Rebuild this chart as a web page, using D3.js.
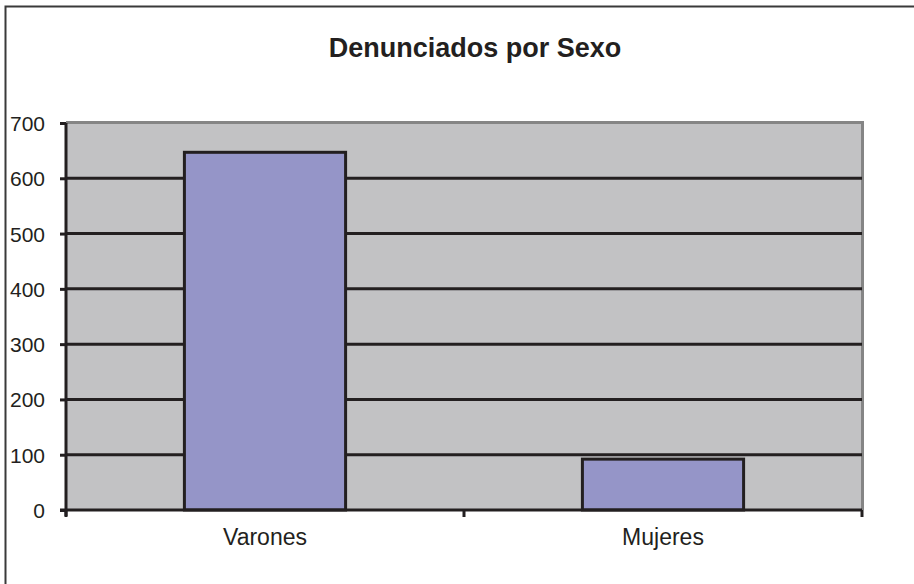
<!DOCTYPE html>
<html>
<head>
<meta charset="utf-8">
<script src="https://cdn.jsdelivr.net/npm/d3@7"></script>
<style>
  body { margin: 0; background: #fff; }
  svg { display: block; font-family: "Liberation Sans", Arial, sans-serif; }
</style>
</head>
<body>
<div id="chart"></div>
<script>
var categories = ['Varones', 'Mujeres'];
var values = [647, 92];
var yTicks = [0, 100, 200, 300, 400, 500, 600, 700];

var W = 914, H = 584;
var plot = { left: 66, top: 123, right: 862, bottom: 510 };

var svg = d3.select('#chart').append('svg')
    .attr('width', W)
    .attr('height', H);

// outer chart border
svg.append('rect')
    .attr('x', 5.5).attr('y', 6.5)
    .attr('width', W + 20).attr('height', H + 20)
    .attr('fill', '#fff')
    .attr('stroke', '#3a3a3a')
    .attr('stroke-width', 2);

svg.append('text')
    .attr('x', 475).attr('y', 56.5)
    .attr('text-anchor', 'middle')
    .style('font-size', '27px')
    .style('font-weight', 'bold')
    .attr('fill', '#231f20')
    .text('Denunciados por Sexo');

var y = d3.scaleLinear().domain([0, 700]).range([plot.bottom, plot.top]);
var xTick = d3.scaleBand().domain(categories).range([plot.left, plot.right]).padding(0);
var x = d3.scaleBand().domain(categories).range([plot.left, plot.right])
    .paddingInner(0.595).paddingOuter(0.2975);

// plot area
svg.append('rect')
    .attr('x', plot.left).attr('y', plot.top)
    .attr('width', plot.right - plot.left).attr('height', plot.bottom - plot.top)
    .attr('fill', '#c2c2c4');
// grey frame top + right
svg.append('path')
    .attr('d', 'M' + plot.left + ',' + (plot.top - 0.5) + 'H' + (plot.right + 0.5) + 'V' + plot.bottom)
    .attr('fill', 'none')
    .attr('stroke', '#858585')
    .attr('stroke-width', 3);

// gridlines
svg.append('g').selectAll('line')
    .data(yTicks.filter(function(d) { return d > 0 && d < 700; }))
  .enter().append('line')
    .attr('x1', plot.left).attr('x2', plot.right)
    .attr('y1', function(d) { return y(d); })
    .attr('y2', function(d) { return y(d); })
    .attr('stroke', '#231f20')
    .attr('stroke-width', 3);

// bars
svg.append('g').selectAll('rect')
    .data(values)
  .enter().append('rect')
    .attr('x', function(d, i) { return x(categories[i]); })
    .attr('width', x.bandwidth())
    .attr('y', function(d) { return y(d); })
    .attr('height', function(d) { return plot.bottom - y(d); })
    .attr('fill', '#9595c8')
    .attr('stroke', '#231f20')
    .attr('stroke-width', 3);

// y axis
var yAxis = svg.append('g')
    .attr('transform', 'translate(' + plot.left + ',0)')
    .call(d3.axisLeft(y).tickValues(yTicks).tickSize(6).tickPadding(15));
yAxis.select('.domain').attr('stroke', '#231f20').attr('stroke-width', 3)
    .attr('d', 'M0,' + plot.top + 'V' + (plot.bottom + 6));
yAxis.selectAll('.tick line').attr('stroke', '#231f20').attr('stroke-width', 3);
yAxis.selectAll('.tick text').style('font-size', '21px').attr('fill', '#231f20')
    .attr('dy', '0.36em')
    .attr('font-family', null);

// x axis
var xAxis = svg.append('g')
    .attr('transform', 'translate(0,' + plot.bottom + ')')
    .call(d3.axisBottom(xTick).tickSize(0).tickPadding(19));
xAxis.select('.domain').attr('stroke', '#231f20').attr('stroke-width', 3)
    .attr('d', 'M' + (plot.left - 6) + ',0H' + plot.right);
xAxis.selectAll('.tick text').style('font-size', '23px').attr('fill', '#231f20')
    .attr('font-family', null);
xAxis.append('g').selectAll('line')
    .data([plot.left, xTick(categories[1]), plot.right])
  .enter().append('line')
    .attr('x1', function(d) { return d; }).attr('x2', function(d) { return d; })
    .attr('y1', 0).attr('y2', 7)
    .attr('stroke', '#231f20').attr('stroke-width', 3);
</script>
</body>
</html>
